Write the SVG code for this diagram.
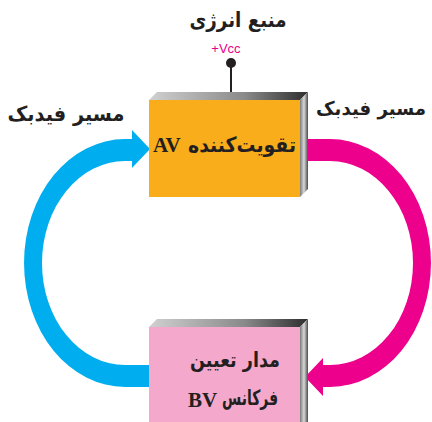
<svg xmlns="http://www.w3.org/2000/svg" width="432" height="422" viewBox="0 0 432 422">
<style>
.fa{font-family:"DejaVu Sans",sans-serif;font-weight:bold;fill:#231f20}
.lat{font-family:"Liberation Serif",serif;font-weight:bold;fill:#231f20}
</style>
<defs>
<linearGradient id="topb" x1="0" y1="0" x2="1" y2="0">
<stop offset="0" stop-color="#d0d0d0"/><stop offset="0.6" stop-color="#8a8a8a"/><stop offset="1" stop-color="#2e2e2e"/>
</linearGradient>
<linearGradient id="rightb" x1="0" y1="0" x2="1" y2="0">
<stop offset="0" stop-color="#7a7a7a"/><stop offset="0.5" stop-color="#d8d8d8"/><stop offset="1" stop-color="#4a4a4a"/>
</linearGradient>
<path id="arr" d="M149,387 L125,387 A101,124 0 0 1 125,139 L132,139 L132,130 L150,149 L132,168 L132,161 L125,161 A83,102 0 0 0 125,365 L149,365 Z"/>
</defs>
<rect width="432" height="422" fill="#fff"/>
<g id="connectors">
<use href="#arr" fill="#00aeef"/>
<use href="#arr" fill="#ec008c" transform="rotate(180 227.5 263)"/>
</g>
<g id="power">
<text class="fa" x="238" y="27" font-size="21" text-anchor="middle" textLength="97" lengthAdjust="spacingAndGlyphs">منبع انرژی</text>
<text x="226" y="53" font-family="Liberation Sans,sans-serif" font-size="13" fill="#ec008c" text-anchor="middle">+Vcc</text>
<line x1="231" y1="63" x2="231" y2="93" stroke="#231f20" stroke-width="2"/>
<circle cx="231" cy="63" r="5" fill="#231f20"/>
</g>
<g id="amplifier">
<polygon points="149,100 157,92 308,92 300,100" fill="url(#topb)"/>
<polygon points="300,100 308,92 308,189 300,197" fill="url(#rightb)"/>
<rect x="149" y="100" width="151" height="97" fill="#f9ad1b"/>
<text class="lat" x="153" y="152" font-size="21">AV</text>
<text class="fa" x="242" y="152" font-size="21" text-anchor="middle" textLength="108" lengthAdjust="spacingAndGlyphs">تقویت&#8204;کننده</text>
</g>
<g id="oscillator">
<polygon points="149,327 157,319 308,319 300,327" fill="url(#topb)"/>
<polygon points="300,327 308,319 308,422 300,422" fill="url(#rightb)"/>
<rect x="149" y="327" width="151" height="95" fill="#f4a8cc"/>
<text class="fa" x="235" y="367" font-size="21" text-anchor="middle" textLength="90" lengthAdjust="spacingAndGlyphs">مدار تعیین</text>
<text class="lat" x="188" y="407" font-size="21">BV</text>
<text class="fa" x="250" y="405" font-size="21" text-anchor="middle" textLength="56" lengthAdjust="spacingAndGlyphs">فرکانس</text>
</g>
<g id="labels">
<text class="fa" x="66" y="121" font-size="21" text-anchor="middle" textLength="117" lengthAdjust="spacingAndGlyphs">مسیر فیدبک</text>
<text class="fa" x="426" y="115" font-size="19" text-anchor="end" textLength="110" lengthAdjust="spacingAndGlyphs">مسیر فیدبک</text>
</g>
</svg>
